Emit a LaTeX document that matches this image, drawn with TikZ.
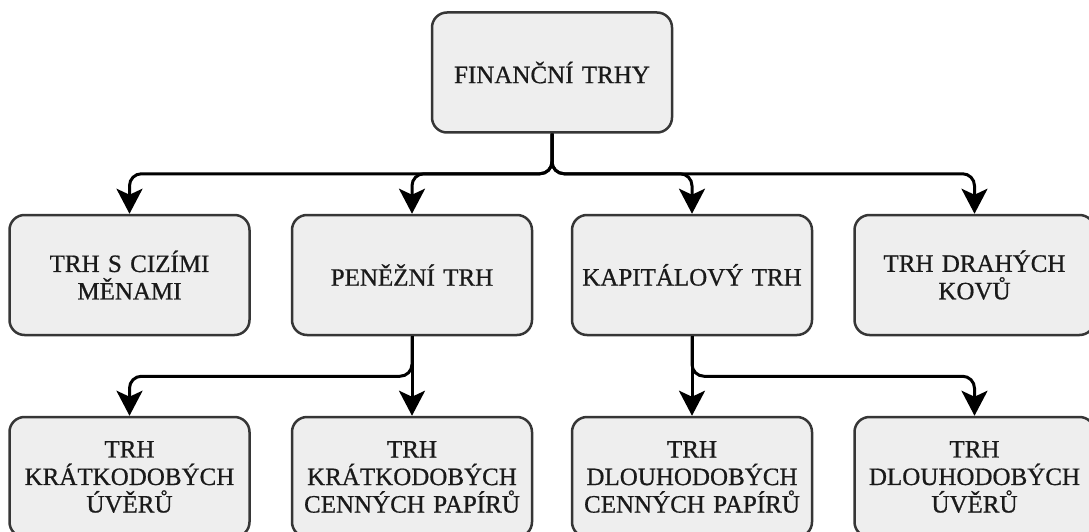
\documentclass[tikz,border=0pt]{standalone}
\usepackage{fontspec}
\setmainfont{Liberation Serif}
\newfontfamily\trhfont[RawFeature={embolden=0.7}]{Liberation Serif}
\usetikzlibrary{arrows.meta,positioning}
\definecolor{boxfill}{HTML}{EEEEEE}
\definecolor{boxline}{HTML}{363636}
\definecolor{textgray}{HTML}{1A1A1A}
\tikzset{
  trh/.style={draw=boxline, fill=boxfill, line width=2.5pt, rounded corners=15pt,
    minimum width=240pt, minimum height=120pt, text width=228pt, align=center,
    inner sep=0pt, text=textgray, font=\trhfont\fontsize{25}{27.5}\selectfont},
  vetev/.style={line width=3pt, rounded corners=12pt,
    -{Stealth[length=25pt,width=26pt,inset=6pt]}},
}
\begin{document}
\begin{tikzpicture}[x=1pt, y=-1pt, node distance=80pt and 40pt]
\useasboundingbox (0,0) rectangle (1089,532);
% koren
\node[trh] (financni) at (552,72.5) {FINANČNÍ TRHY};
% druha uroven
\node[trh, below=of financni, xshift=-140pt] (penezni) {PENĚŽNÍ TRH};
\node[trh, left=of penezni] (cizi) {TRH S CIZÍMI\\ MĚNAMI};
\node[trh, below=of financni, xshift=140pt] (kapital) {KAPITÁLOVÝ TRH};
\node[trh, right=of kapital] (kovy) {TRH DRAHÝCH\\ KOVŮ};
% treti uroven
\node[trh, below=79.5pt of cizi] (kratkouvery) {TRH\\ KRÁTKODOBÝCH\\ ÚVĚRŮ};
\node[trh, below=79.5pt of penezni] (kratkopapiry) {TRH\\ KRÁTKODOBÝCH\\ CENNÝCH PAPÍRŮ};
\node[trh, below=79.5pt of kapital] (dlouhopapiry) {TRH\\ DLOUHODOBÝCH\\ CENNÝCH PAPÍRŮ};
\node[trh, below=79.5pt of kovy] (dlouhouvery) {TRH\\ DLOUHODOBÝCH\\ ÚVĚRŮ};
% spojnice
\draw[vetev] (financni.south) -- ++(0,40) -| (cizi.north);
\draw[vetev] (financni.south) -- ++(0,40) -| (penezni.north);
\draw[vetev] (financni.south) -- ++(0,40) -| (kapital.north);
\draw[vetev] (financni.south) -- ++(0,40) -| (kovy.north);
\draw[vetev] (penezni.south) -- ++(0,40) -| (kratkouvery.north);
\draw[vetev] (penezni.south) -- (kratkopapiry.north);
\draw[vetev] (kapital.south) -- (dlouhopapiry.north);
\draw[vetev] (kapital.south) -- ++(0,40) -| (dlouhouvery.north);
\end{tikzpicture}
\end{document}
